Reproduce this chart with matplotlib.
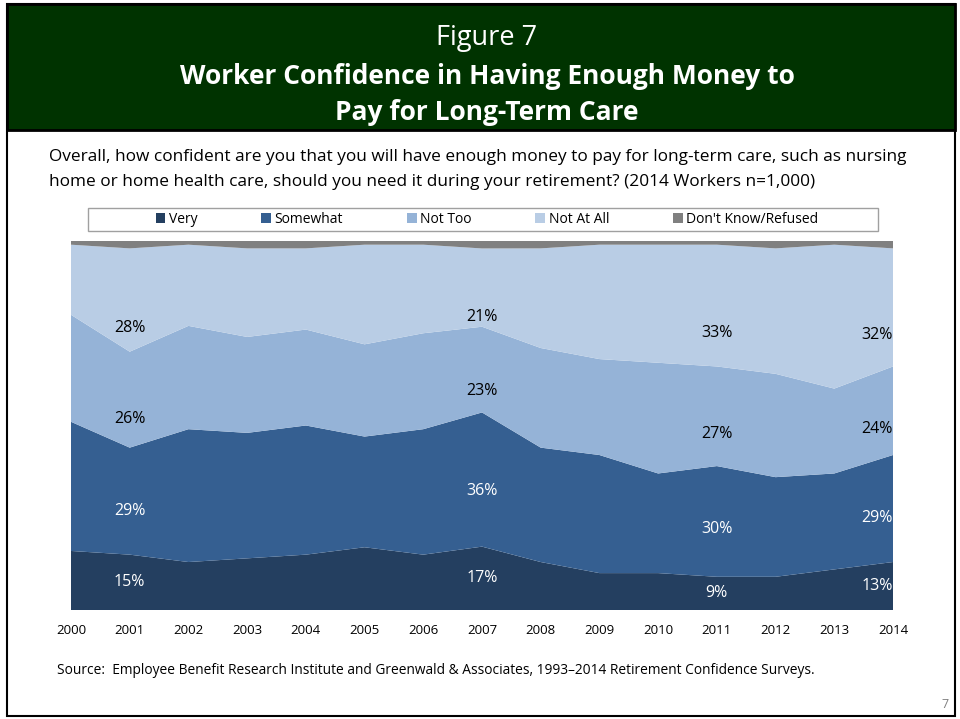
import matplotlib
matplotlib.use("Agg")
import matplotlib.pyplot as plt
from matplotlib.patches import Rectangle, Patch
import numpy as np

years = [2000, 2001, 2002, 2003, 2004, 2005, 2006, 2007,
         2008, 2009, 2010, 2011, 2012, 2013, 2014]
very = [16, 15, 13, 14, 15, 17, 15, 17, 13, 10, 10, 9, 9, 11, 13]
somewhat = [35, 29, 36, 34, 35, 30, 34, 36, 31, 32, 27, 30, 27, 26, 29]
not_too = [29, 26, 28, 26, 26, 25, 26, 23, 27, 26, 30, 27, 28, 23, 24]
not_at_all = [19, 28, 22, 24, 22, 27, 24, 21, 27, 31, 32, 33, 34, 39, 32]
dont_know = [1, 2, 1, 2, 2, 1, 1, 2, 2, 1, 1, 1, 2, 1, 2]

series_names = ["Very", "Somewhat", "Not Too", "Not At All", "Don't Know/Refused"]
colors = ["#243F60", "#355F91", "#95B3D7", "#B9CDE5", "#808080"]
label_years = [2001, 2007, 2011, 2014]

plt.rcParams["font.family"] = ["Open Sans", "DejaVu Sans"]

fig = plt.figure(figsize=(9.6, 7.19), dpi=100)
W, H = 960, 719


def fx(px):
    return px / W


def fy(py):
    return 1 - py / H


# slide frame and green title band
fig.patches.append(Rectangle((fx(7), fy(716)), fx(948), 712 / H, fill=False,
                             ec="black", lw=1.5, transform=fig.transFigure))
fig.patches.append(Rectangle((fx(7), fy(130)), fx(948), 126 / H, fc="#003300",
                             ec="black", lw=2, transform=fig.transFigure))

fig.text(fx(487), fy(38), "Figure 7", color="white", fontsize=19.5,
         ha="center", va="center")
fig.text(fx(487), fy(76), "Worker Confidence in Having Enough Money to", color="white",
         fontsize=19, fontweight="bold", ha="center", va="center")
fig.text(fx(487), fy(113), "Pay for Long-Term Care", color="white",
         fontsize=19, fontweight="bold", ha="center", va="center")

fig.text(fx(49), fy(157), "Overall, how confident are you that you will have enough money to pay "
         "for long-term care, such as nursing", fontsize=12.4, ha="left", va="center")
fig.text(fx(49), fy(182), "home or home health care, should you need it during your retirement? "
         "(2014 Workers n=1,000)", fontsize=12.4, ha="left", va="center")

ax = fig.add_axes([fx(71), fy(610), fx(893 - 71), (610 - 241) / H])
data = np.array([very, somewhat, not_too, not_at_all, dont_know], dtype=float)
# 100% stacked, like the source chart
shares = data / data.sum(axis=0) * 100
ax.stackplot(years, shares, colors=colors, linewidth=0)
ax.set_xlim(years[0], years[-1])
ax.set_ylim(0, 100)
ax.set_yticks([])
ax.set_xticks(years)
ax.set_xticklabels([str(y) for y in years], fontsize=9.5)
ax.tick_params(axis="x", length=0, pad=10)
for s in ax.spines.values():
    s.set_visible(False)

# data labels, placed inside each band
cum = np.cumsum(shares, axis=0)
text_colors = ["white", "white", "black", "black"]
for yr in label_years:
    i = years.index(yr)
    for k in range(4):
        lo = cum[k - 1, i] if k > 0 else 0
        mid = (lo + cum[k, i]) / 2
        ypos = mid if k == 0 else mid * 0.91
        ha = "right" if yr == years[-1] else "center"
        ax.text(yr, ypos, f"{int(data[k, i])}%", color=text_colors[k],
                fontsize=11.5, ha=ha, va="center")

# legend box
fig.patches.append(Rectangle((fx(88), fy(231)), fx(790), 23 / H, fill=False,
                             ec="#A0A0A0", lw=1, transform=fig.transFigure))
handles = [Patch(facecolor=c, edgecolor="none") for c in colors]
fig.legend(handles, series_names, loc="center", ncol=5,
           bbox_to_anchor=(fx(487), fy(219.5)), fontsize=10, frameon=False,
           handlelength=0.7, handleheight=0.7, handletextpad=0.25,
           columnspacing=4.6, borderpad=0.2)

fig.text(fx(57), fy(670), "Source:  Employee Benefit Research Institute and Greenwald & Associates, "
         "1993\u20132014 Retirement Confidence Surveys.", fontsize=9.9, ha="left", va="center")
fig.text(fx(945), fy(705), "7", fontsize=9, color="#808080", ha="center", va="center")

fig.savefig("out.png", dpi=100, facecolor="white")
